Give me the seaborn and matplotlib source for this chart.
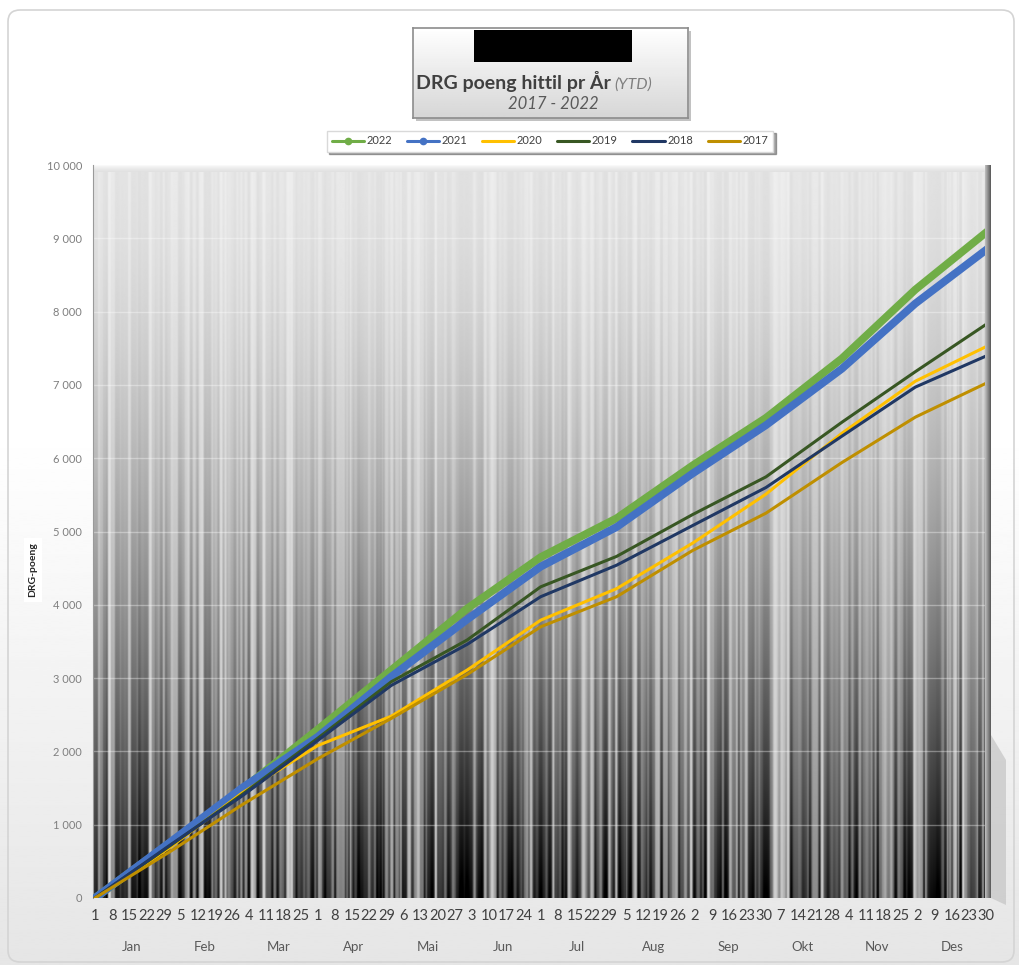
import numpy as np
import pandas as pd
import matplotlib
matplotlib.use("Agg")
import matplotlib.pyplot as plt
from matplotlib.lines import Line2D
from matplotlib.patches import Rectangle, FancyBboxPatch, Polygon
from matplotlib.transforms import blended_transform_factory
import seaborn as sns

# ---------------------------------------------------------------- data
# day of year (leap-year calendar, 0 = 1 Jan) at each month boundary
days = [0, 31, 60, 91, 121, 152, 182, 213, 244, 274, 305, 335, 365]

ytd_2022 = [0, 760, 1480, 2300, 3110, 3950, 4650, 5180, 5900, 6550, 7360, 8300, 9110]
ytd_2021 = [0, 770, 1500, 2200, 3020, 3800, 4520, 5060, 5790, 6450, 7220, 8110, 8870]
ytd_2020 = [0, 700, 1430, 2080, 2480, 3110, 3790, 4220, 4840, 5510, 6340, 7050, 7540]
ytd_2019 = [0, 720, 1410, 2180, 2950, 3520, 4245, 4660, 5230, 5745, 6490, 7180, 7850]
ytd_2018 = [0, 730, 1390, 2150, 2900, 3460, 4110, 4540, 5080, 5600, 6300, 6970, 7410]
ytd_2017 = [0, 640, 1270, 1900, 2450, 3050, 3700, 4110, 4740, 5250, 5940, 6560, 7040]

years = ["2022", "2021", "2020", "2019", "2018", "2017"]
series = [ytd_2022, ytd_2021, ytd_2020, ytd_2019, ytd_2018, ytd_2017]
colors = ["#70AD47", "#4472C4", "#FFC000", "#385723", "#203864", "#BF8F00"]
widths = [5.6, 5.6, 2.2, 2.2, 2.2, 2.2]
with_marker = [True, True, False, False, False, False]

# weekly tick positions (every 7th day from 1 Jan) and their day-of-month labels
tick_days = list(range(0, 365, 7))
tick_labels = ["1", "8", "15", "22", "29", "5", "12", "19", "26", "4", "11", "18", "25",
               "1", "8", "15", "22", "29", "6", "13", "20", "27", "3", "10", "17", "24",
               "1", "8", "15", "22", "29", "5", "12", "19", "26", "2", "9", "16", "23", "30",
               "7", "14", "21", "28", "4", "11", "18", "25", "2", "9", "16", "23", "30"]
month_names = ["Jan", "Feb", "Mar", "Apr", "Mai", "Jun", "Jul", "Aug", "Sep", "Okt", "Nov", "Des"]
month_bounds = [0, 31, 60, 91, 121, 152, 182, 213, 244, 274, 305, 335, 366]

df = pd.concat(
    [pd.DataFrame({"dag": days, "poeng": vals, "år": yr}) for yr, vals in zip(years, series)],
    ignore_index=True,
)

# ---------------------------------------------------------------- style
sns.set_style("white")
plt.rcParams["font.family"] = ["Lato", "DejaVu Sans"]

W_PX, H_PX = 1019, 965
fig = plt.figure(figsize=(W_PX / 100, H_PX / 100), dpi=100)


def fx(px):
    return px / W_PX


def fy(py):
    return 1 - py / H_PX


def frac_hash(k, a, b):
    v = np.sin(k * a + b) * 43758.5453
    return v - np.floor(v)


# page background: white fading to light grey
bg = fig.add_axes([0, 0, 1, 1], zorder=-10)
g = np.minimum(1.0, np.linspace(1.08, 0.9, 400))[:, None]
bg.imshow(g, cmap="gray", vmin=0, vmax=1, aspect="auto", extent=[0, 1, 0, 1])
bg.set_xlim(0, 1)
bg.set_ylim(0, 1)
bg.axis("off")
bg.add_patch(FancyBboxPatch((fx(8), fy(962)), fx(1006), 952 / H_PX,
                            boxstyle="round,pad=0,rounding_size=0.012",
                            fc="none", ec="#d4d4d4", lw=1.2, transform=bg.transAxes))

# ---------------------------------------------------------------- plot area
ax = fig.add_axes([fx(93), fy(898), fx(897), 733 / H_PX])
xmin, xmax = -0.8, 365.5

# striped wall texture: pale at the top, dark with bright streaks at the bottom
W, H = 900, 740
k = np.arange(700, dtype=float)
stripe_w = 1 + np.floor(frac_hash(k, 78.233, 1.3) * 3).astype(int)
stripe_v = frac_hash(k, 12.9898, 4.1) ** 1.6
s = np.repeat(stripe_v, stripe_w)[:W]
s = np.convolve(s, [0.2, 0.6, 0.2], mode="same")
r = np.linspace(0, 1, H)[:, None]
base = 0.9 - 0.6 * r ** 1.6
amp = 0.06 + 0.85 * r ** 2
tex = base + amp * (s[None, :] - 0.38)
tex[:7, :] = np.linspace(0.97, 0.88, 7)[:, None]
ax.imshow(np.clip(tex, 0, 1), cmap="gray", vmin=0, vmax=1, aspect="auto",
          extent=[xmin, xmax, 0, 10000], origin="upper", interpolation="bilinear", zorder=0)

ax.set_xlim(xmin, xmax)
ax.set_ylim(0, 10000)
for yv in range(1000, 10001, 1000):
    ax.axhline(yv, color="white", alpha=0.35, lw=1.0, zorder=1)

for yr, c, lw in zip(years, colors, widths):
    sns.lineplot(data=df[df["år"] == yr], x="dag", y="poeng", color=c, lw=lw,
                 ax=ax, zorder=3, legend=False, solid_capstyle="round")

ax.set_xlabel("")
ax.set_ylabel("")
ax.set_yticks(range(0, 10001, 1000))
ax.set_yticklabels([f"{v:,}".replace(",", " ") for v in range(0, 10001, 1000)])
ax.set_xticks(tick_days)
ax.set_xticklabels(tick_labels)
ax.tick_params(axis="y", length=0, pad=8, labelsize=8, labelcolor="#7f7f7f")
ax.tick_params(axis="x", length=0, pad=8, labelsize=10.5, labelcolor="#404040")
for s_ in ax.spines.values():
    s_.set_visible(False)
ax.spines["left"].set_visible(True)
ax.spines["left"].set_color("#9a9a9a")

trans = blended_transform_factory(ax.transData, ax.transAxes)
for name, a, b in zip(month_names, month_bounds[:-1], month_bounds[1:]):
    ax.text((a + b) / 2 - 0.5, -0.067, name, transform=trans, ha="center", va="center",
            fontsize=9.5, color="#595959")

# right side wall and floor shading
side = fig.add_axes([fx(985), fy(898), fx(6), 733 / H_PX], zorder=2)
side.imshow(np.linspace(0.75, 0.35, 20)[None, :], cmap="gray", vmin=0, vmax=1,
            aspect="auto", extent=[0, 1, 0, 1])
side.axis("off")
bg.add_patch(Polygon([(fx(991), fy(735)), (fx(1006), fy(760)), (fx(1006), fy(905)),
                      (fx(991), fy(898))], closed=True, fc="#c4c4c4", ec="none", alpha=0.7))

# ---------------------------------------------------------------- title box
bg.add_patch(Rectangle((fx(416), fy(121)), fx(275), 90 / H_PX, fc="#9a9a9a", ec="none",
                       alpha=0.6, transform=bg.transAxes))
tb = fig.add_axes([fx(413), fy(118), fx(275), 90 / H_PX], zorder=5)
tb.imshow(np.linspace(1.0, 0.84, 50)[:, None], cmap="gray", vmin=0, vmax=1,
          aspect="auto", extent=[0, 1, 0, 1])
tb.set_xlim(0, 1)
tb.set_ylim(0, 1)
tb.set_xticks([])
tb.set_yticks([])
for s_ in tb.spines.values():
    s_.set_color("#8c8c8c")
    s_.set_linewidth(1.2)
tb.add_patch(Rectangle((61 / 275, (118 - 62) / 90), 158 / 275, 32 / 90, fc="black", ec="none"))

fig.text(fx(611), fy(89), "DRG poeng hittil pr År", ha="right", va="baseline",
         fontsize=14, fontweight="bold", color="#404040", zorder=6)
fig.text(fx(614), fy(89), "(YTD)", ha="left", va="baseline", fontsize=11.5,
         style="italic", color="#7f7f7f", zorder=6)
fig.text(fx(553), fy(104), "2017 - 2022", ha="center", va="center", fontsize=12,
         style="italic", color="#595959", zorder=6)

# ---------------------------------------------------------------- legend
handles = [Line2D([0], [0], color=c, lw=2.2, marker="o" if m else None, markersize=4.5)
           for c, m in zip(colors, with_marker)]
leg = fig.legend(handles, years, loc="center", bbox_to_anchor=(fx(550), fy(141)), ncol=6,
                 fontsize=8, frameon=True, handlelength=2.9, columnspacing=1.3,
                 handletextpad=0.25, borderpad=0.45, fancybox=False, shadow=True,
                 edgecolor="#d9d9d9")
for t in leg.get_texts():
    t.set_color("#404040")

# y-axis title
fig.text(fx(33), fy(570), "DRG-poeng", rotation=90, fontsize=7.5, fontweight="bold",
         color="#262626", ha="center", va="center",
         bbox=dict(facecolor="white", edgecolor="none", pad=3))

fig.savefig("out.png", dpi=100)
